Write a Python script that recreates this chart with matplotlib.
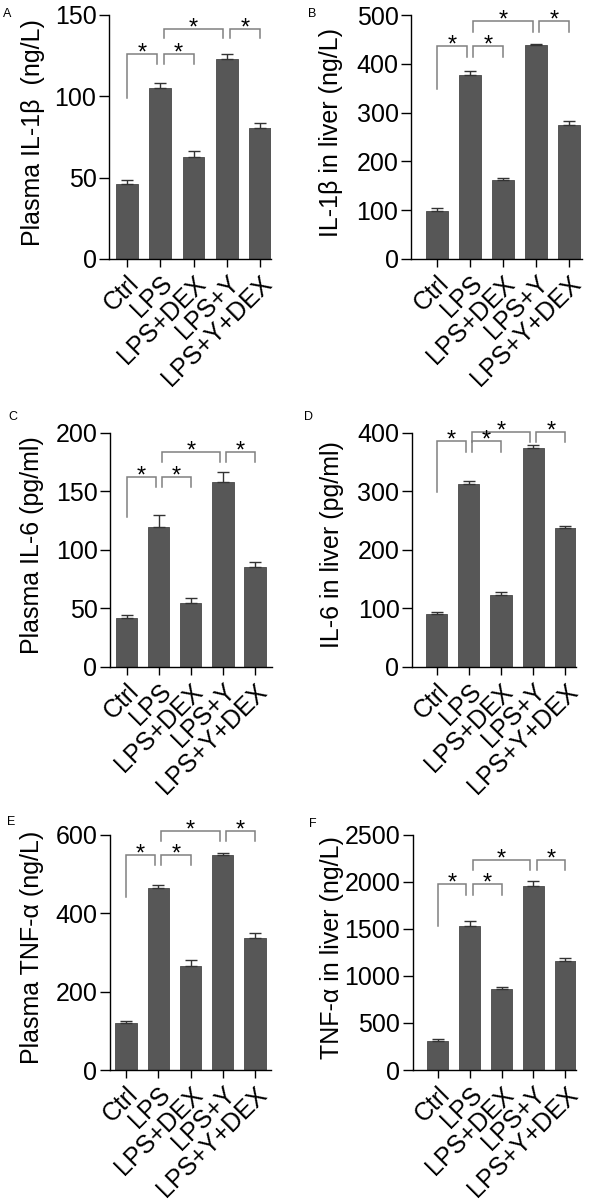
import numpy as np
import matplotlib
matplotlib.use("Agg")
import matplotlib.pyplot as plt

plt.rcParams['font.family'] = ['Liberation Sans', 'DejaVu Sans']

groups = ['Ctrl', 'LPS', 'LPS+DEX', 'LPS+Y', 'LPS+Y+DEX']

# mean values and top of the error bar (mean + SEM)
il1b_plasma = [45.8, 105.3, 62.4, 123.1, 80.4]
il1b_plasma_top = [48.8, 108.0, 66.7, 125.8, 83.5]
il1b_liver = [98.6, 377.0, 161.0, 439.0, 274.7]
il1b_liver_top = [104.0, 385.0, 166.0, 442.0, 282.0]
il6_plasma = [41.3, 119.7, 54.4, 157.8, 84.9]
il6_plasma_top = [43.9, 129.6, 58.7, 166.7, 89.2]
il6_liver = [89.5, 312.0, 122.5, 373.0, 237.0]
il6_liver_top = [93.4, 317.0, 128.0, 379.5, 240.8]
tnf_plasma = [120.7, 463.0, 265.0, 547.0, 337.0]
tnf_plasma_top = [125.0, 471.7, 280.5, 553.0, 350.0]
tnf_liver = [311.6, 1529.7, 857.0, 1958.0, 1154.0]
tnf_liver_top = [329.0, 1586.0, 885.0, 2008.0, 1186.0]

# significance brackets: (left bar, right bar, top, left leg end, right leg end)
brackets_a = [(0, 1, 125.8, 99.2, 119.7), (1, 2, 125.8, 119.7, 119.7),
              (1, 3, 141.2, 135.7, 135.7), (3, 4, 141.2, 135.7, 135.7)]
brackets_b = [(0, 1, 436, 348, 414), (1, 2, 436, 414, 414),
              (1, 3, 489, 466, 466), (3, 4, 489, 466, 466)]
brackets_c = [(0, 1, 162.4, 127.6, 153.3), (1, 2, 162.4, 153.3, 153.3),
              (1, 3, 183.8, 175.2, 175.2), (3, 4, 183.8, 175.2, 175.2)]
brackets_d = [(0, 1, 385, 299, 367), (1, 2, 385, 367, 367),
              (1, 3, 401, 384, 384), (3, 4, 401, 384, 384)]
brackets_e = [(0, 1, 548.4, 442, 523), (1, 2, 548.4, 523, 523),
              (1, 3, 610.6, 584.5, 584.5), (3, 4, 610.6, 584.5, 584.5)]
brackets_f = [(0, 1, 1976, 1530, 1859), (1, 2, 1976, 1859, 1859),
              (1, 3, 2231, 2125, 2125), (3, 4, 2231, 2125, 2125)]

W, H = 592, 1202
fig = plt.figure(figsize=(W / 100, H / 100), dpi=100)

# panel: letter, ylabel, values, tops, brackets, ymax, yticks,
# axes box in pixels (left, right, top, bottom), first/last bar centre px, letter px
panels = [
    ('A', 'Plasma IL-1β  (ng/L)', il1b_plasma, il1b_plasma_top, brackets_a, 150, [0, 50, 100, 150],
     (109, 271, 15, 259), (127, 260), (3, 17)),
    ('B', 'IL-1β in liver (ng/L)', il1b_liver, il1b_liver_top, brackets_b, 500, [0, 100, 200, 300, 400, 500],
     (411, 582, 15.3, 258.7), (437, 569), (308, 17)),
    ('C', 'Plasma IL-6 (pg/ml)', il6_plasma, il6_plasma_top, brackets_c, 200, [0, 50, 100, 150, 200],
     (110, 271.7, 432.7, 666.7), (126.7, 255), (8, 420)),
    ('D', 'IL-6 in liver (pg/ml)', il6_liver, il6_liver_top, brackets_d, 400, [0, 100, 200, 300, 400],
     (412, 576, 432.7, 666.7), (436.7, 565.3), (304, 420)),
    ('E', 'Plasma TNF-α (ng/L)', tnf_plasma, tnf_plasma_top, brackets_e, 600, [0, 200, 400, 600],
     (110, 270.7, 834.7, 1070), (126, 255), (7, 825)),
    ('F', 'TNF-α in liver (ng/L)', tnf_liver, tnf_liver_top, brackets_f, 2500, [0, 500, 1000, 1500, 2000, 2500],
     (412.7, 576, 834.7, 1070), (437.7, 565.3), (309, 827)),
]

bar_color = '#575757'
x = np.arange(len(groups))

for letter, ylabel, vals, tops, brackets, ymax, yticks, box, centres, lpos in panels:
    left, right, top, bottom = box
    ax = fig.add_axes([left / W, 1 - bottom / H, (right - left) / W, (bottom - top) / H])
    step = (centres[1] - centres[0]) / 4
    ax.set_xlim(-(centres[0] - left) / step, 4 + (right - centres[1]) / step)
    ax.set_ylim(0, ymax)

    vals = np.array(vals)
    err = np.array(tops) - vals
    ax.bar(x, vals, width=0.66, color=bar_color, edgecolor='#484848', linewidth=0.6,
           yerr=[np.zeros_like(err), err], capsize=4,
           error_kw=dict(ecolor='#333333', elinewidth=1.0, capthick=1.0), zorder=2)

    for i, j, btop, lleg, rleg in brackets:
        xl = i + (0.1 if i in (1, 3) else 0.0)
        xr = j - (0.1 if j in (1, 3) else 0.0)
        ax.plot([xl, xl, xr, xr], [lleg, btop, btop, rleg], color='#808080', lw=1.1,
                clip_on=False, solid_joinstyle='miter')
        ax.annotate('*', xy=((xl + xr) / 2, btop), xytext=(0, -4), textcoords='offset points',
                    ha='center', va='baseline', fontsize=17, annotation_clip=False)

    ax.spines['top'].set_visible(False)
    ax.spines['right'].set_visible(False)
    ax.spines['left'].set_linewidth(1.0)
    ax.spines['bottom'].set_linewidth(1.0)
    ax.set_yticks(yticks)
    ax.set_xticks(x)
    ax.set_xticklabels(groups, rotation=45, ha='right', rotation_mode='anchor', fontsize=18)
    ax.tick_params(axis='y', length=7, width=1.0, labelsize=18, pad=2)
    ax.tick_params(axis='x', length=6, width=1.0, pad=3)
    ax.set_ylabel(ylabel, fontsize=18, va='center')
    lab_x = {'A': 33, 'B': 331, 'C': 32, 'D': 332, 'E': 32, 'F': 332}[letter]
    ax.yaxis.set_label_coords((lab_x - left) / (right - left), 0.52)

    fig.text(lpos[0] / W, 1 - lpos[1] / H, letter, fontsize=9, ha='left', va='baseline')

fig.savefig('out.png', dpi=100)
